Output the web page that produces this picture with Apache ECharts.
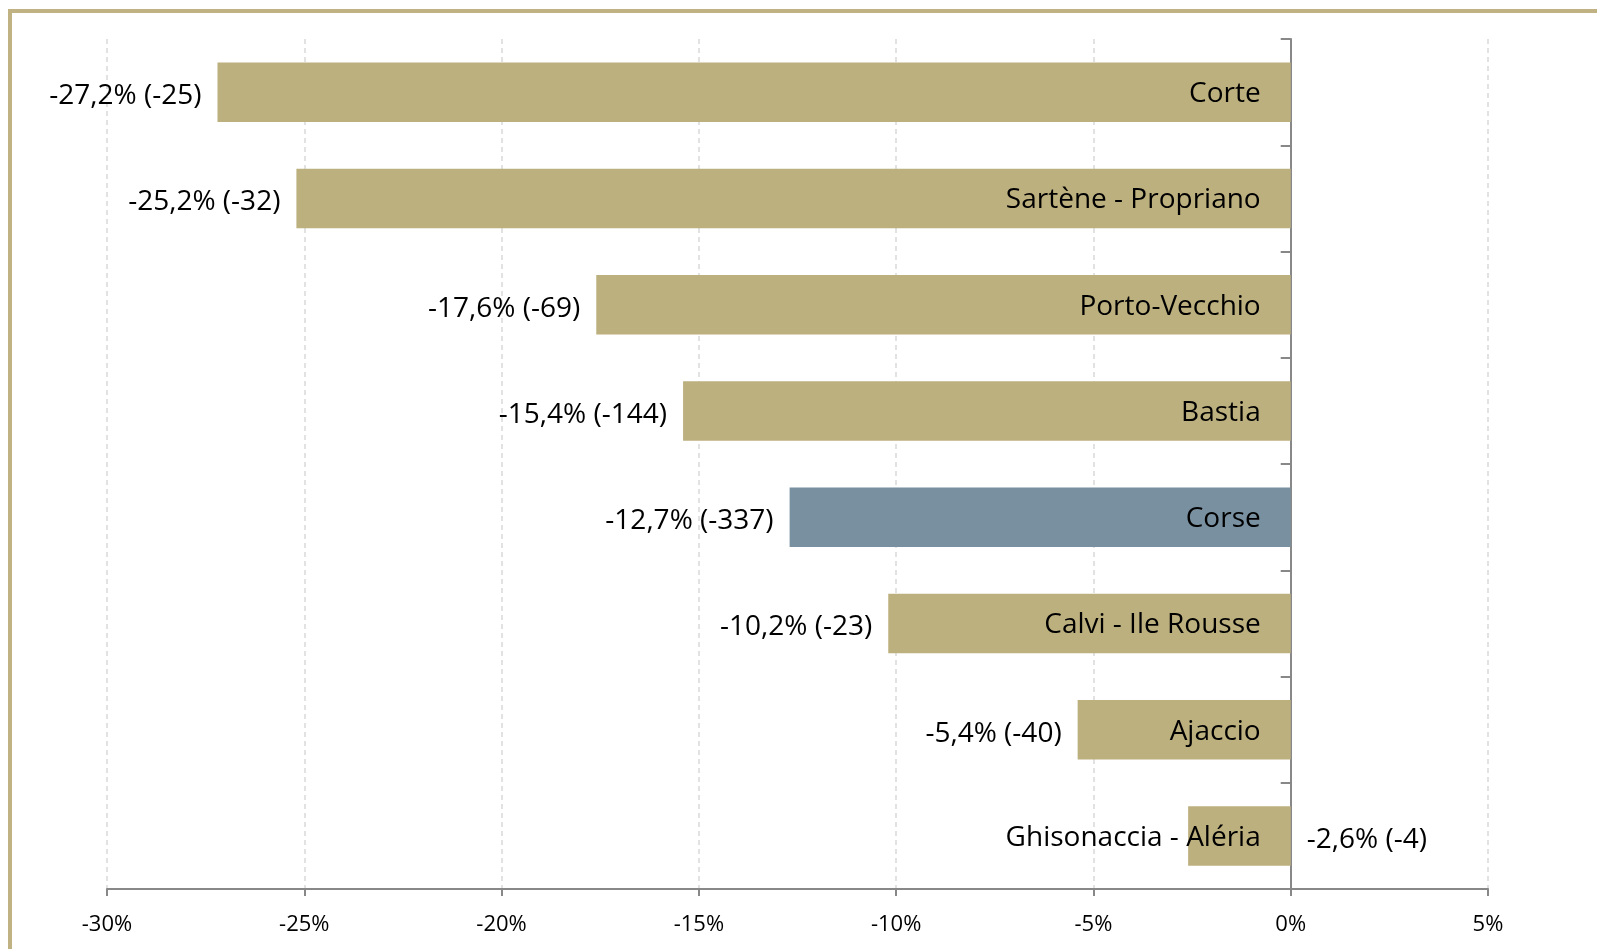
<!DOCTYPE html>
<html>
<head>
<meta charset="utf-8">
<script src="https://cdn.jsdelivr.net/npm/echarts@6/dist/echarts.min.js"></script>
<style>
  html, body { margin: 0; padding: 0; background: #fff; overflow: hidden; }
  #frame {
    position: absolute; left: 8px; top: 9px; width: 1700px; height: 1100px;
    border: 4px solid #c0b283; box-sizing: border-box;
  }
  #main { position: absolute; left: 0; top: 0; width: 1597px; height: 949px; }
</style>
</head>
<body>
<div id="frame"></div>
<div id="main"></div>
<script>
// zones, de haut en bas
var categories = ["Corte", "Sartène - Propriano", "Porto-Vecchio", "Bastia", "Corse", "Calvi - Ile Rousse", "Ajaccio", "Ghisonaccia - Aléria"];
// évolution en %
var evolution = [-27.2, -25.2, -17.6, -15.4, -12.7, -10.2, -5.4, -2.6];
// évolution en nombre
var ecart = [-25, -32, -69, -144, -337, -23, -40, -4];
var xTicks = [-30, -25, -20, -15, -10, -5, 0, 5];

var gold = "#bdb07f";
var blue = "#7890a0";
var font = "'Open Sans', 'Noto Sans', sans-serif";

var chart = echarts.init(document.getElementById("main"));

function fmt(v) {
  return v.toFixed(1).replace(".", ",");
}

chart.setOption({
  animation: false,
  grid: { left: 107, right: 109, top: 39, bottom: 60 },
  xAxis: {
    type: "value",
    min: xTicks[0],
    max: xTicks[xTicks.length - 1],
    interval: 5,
    axisLine: { show: true, lineStyle: { color: "#888", width: 2 } },
    axisTick: { show: true, length: 7, lineStyle: { color: "#888", width: 2 } },
    axisLabel: {
      color: "#000", fontSize: 22, fontFamily: font, margin: 25,
      formatter: function (v) { return v + "%"; }
    },
    splitLine: { show: true, lineStyle: { color: "#d9d9d9", type: [5, 4], width: 1.5 } }
  },
  yAxis: {
    type: "category",
    inverse: true,
    data: categories,
    axisLine: { show: true, onZero: true, lineStyle: { color: "#888", width: 2 } },
    axisTick: { show: true, length: 10, alignWithLabel: false, lineStyle: { color: "#888", width: 2 } },
    axisLabel: { show: false },
    splitLine: { show: false }
  },
  series: [
    {
      type: "bar",
      barWidth: "56%",
      z: 2,
      data: evolution.map(function (v, i) {
        return {
          value: v,
          itemStyle: { color: categories[i] === "Corse" ? blue : gold }
        };
      }),
      label: {
        show: true,
        position: "insideRight",
        distance: 30,
        offset: [0, 2],
        color: "#000",
        fontSize: 28,
        fontFamily: font,
        formatter: function (p) { return categories[p.dataIndex]; }
      }
    },
    {
      type: "bar",
      barWidth: "56%",
      barGap: "-100%",
      z: 1,
      itemStyle: { color: "rgba(0,0,0,0)" },
      data: evolution.map(function (v, i) {
        return {
          value: v,
          label: { position: v > -4 ? "right" : "left" }
        };
      }),
      label: {
        show: true,
        distance: 16,
        offset: [0, 4],
        color: "#000",
        fontSize: 28,
        fontFamily: font,
        formatter: function (p) {
          return fmt(evolution[p.dataIndex]) + "% (" + ecart[p.dataIndex] + ")";
        }
      }
    }
  ]
});

window.addEventListener("resize", function () {
  chart.resize();
});
</script>
</body>
</html>
